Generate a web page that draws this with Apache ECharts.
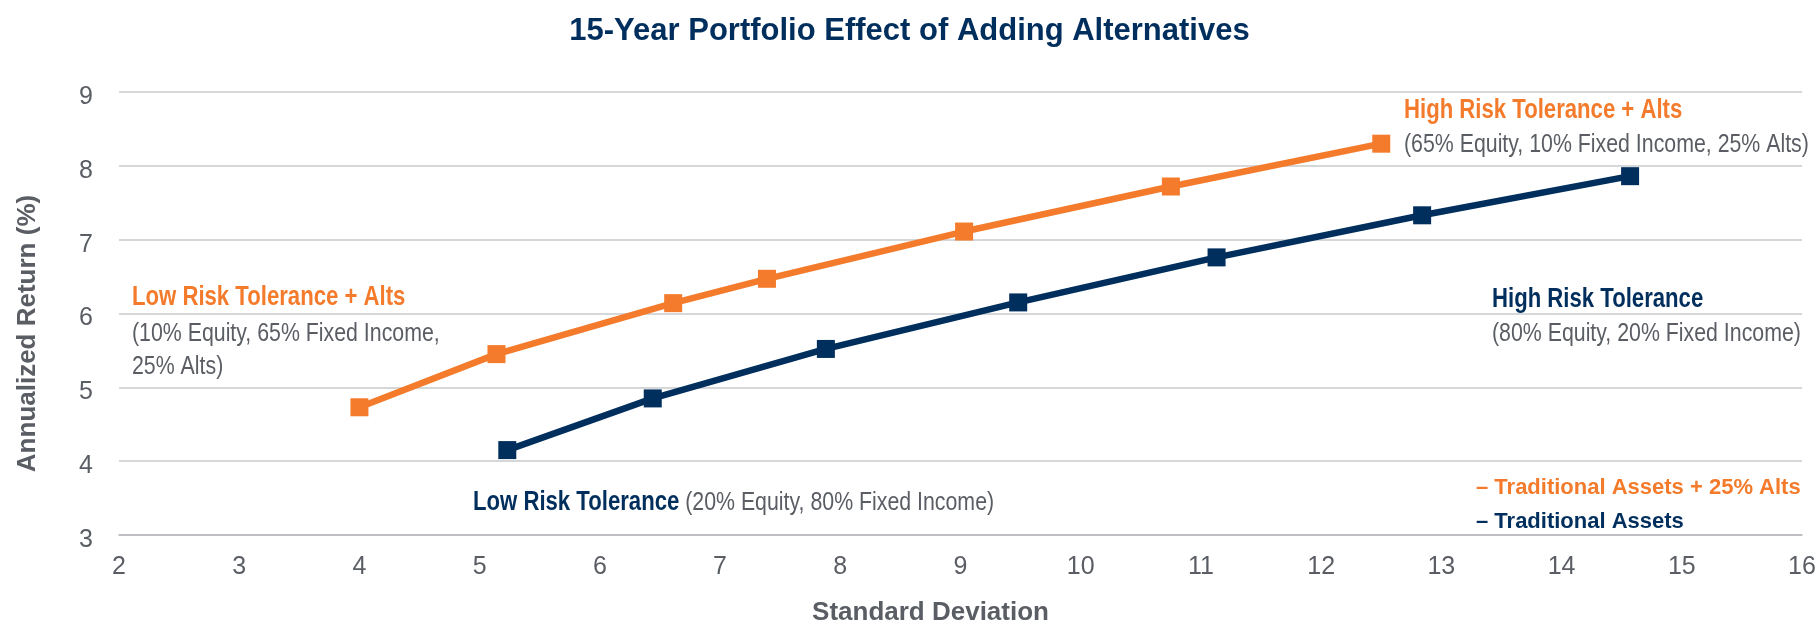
<!DOCTYPE html>
<html>
<head>
<meta charset="utf-8">
<script src="https://cdn.jsdelivr.net/npm/echarts@6/dist/echarts.min.js"></script>
<style>
html,body{margin:0;padding:0;background:#fff;}
#chart{width:1819px;height:631px;}
</style>
</head>
<body>
<div id="chart"></div>
<script>
// ---- data ----
const titleText = '15-Year Portfolio Effect of Adding Alternatives';
const xAxisName = 'Standard Deviation';
const yAxisName = 'Annualized Return (%)';
const seriesNames = ['Traditional Assets + 25% Alts', 'Traditional Assets'];
const altsStdDev = [4.0, 5.14, 6.61, 7.39, 9.03, 10.75, 12.5];
const altsReturn = [4.73, 5.45, 6.14, 6.47, 7.11, 7.72, 8.30];
const tradStdDev = [5.23, 6.44, 7.88, 9.48, 11.13, 12.84, 14.57];
const tradReturn = [4.15, 4.85, 5.52, 6.15, 6.76, 7.33, 7.86];
const xTicks = { min: 2, max: 16, interval: 1 };
const yTicks = { min: 3, max: 9, interval: 1 };

const ORANGE = '#f47b2b';
const NAVY = '#002e5d';
const GRAY = '#5a5e64';
const FONT = "'Liberation Sans', Arial, sans-serif";
const NARROW = 0.82;

function pairs(xs, ys) { return xs.map((x, i) => [x, ys[i]]); }

function txt(x, y, text, color, bold) {
  return {
    type: 'text', x: x, y: y, scaleX: NARROW, silent: true,
    style: {
      text: text, fill: color, fontFamily: FONT,
      fontSize: bold ? 27 : 26, fontWeight: bold ? 'bold' : 'normal',
      align: 'left', verticalAlign: 'middle'
    }
  };
}

const chart = echarts.init(document.getElementById('chart'));
chart.setOption({
  animation: false,
  backgroundColor: '#ffffff',
  title: {
    text: titleText,
    left: 'center',
    top: 11,
    textStyle: { fontFamily: FONT, fontSize: 31, fontWeight: 'bold', color: NAVY }
  },
  legend: {
    orient: 'vertical',
    left: 1466,
    top: 472,
    icon: 'none',
    itemWidth: 0,
    itemHeight: 14,
    itemGap: 12,
    selectedMode: false,
    formatter: '– {name}',
    data: [
      { name: seriesNames[0], textStyle: { color: ORANGE } },
      { name: seriesNames[1], textStyle: { color: NAVY } }
    ],
    textStyle: { fontFamily: FONT, fontSize: 22, fontWeight: 'bold' }
  },
  grid: { left: 119, right: 17, top: 92, bottom: 93, containLabel: false },
  xAxis: {
    type: 'value',
    min: xTicks.min, max: xTicks.max, interval: xTicks.interval,
    name: xAxisName,
    nameLocation: 'middle',
    nameGap: 65,
    nameTextStyle: { fontFamily: FONT, fontSize: 26, fontWeight: 'bold', color: GRAY, padding: [0, 60, 0, 0] },
    axisLine: { show: true, lineStyle: { color: '#b4b7ba', width: 1.5 } },
    axisTick: { show: false },
    splitLine: { show: false },
    axisLabel: { fontFamily: FONT, fontSize: 25, color: GRAY, margin: 20 }
  },
  yAxis: {
    type: 'value',
    min: yTicks.min, max: yTicks.max, interval: yTicks.interval,
    name: yAxisName,
    nameLocation: 'middle',
    nameGap: 78,
    nameRotate: 90,
    nameTextStyle: { fontFamily: FONT, fontSize: 26, fontWeight: 'bold', color: GRAY, padding: [0, 40, 0, 0] },
    axisLine: { show: false },
    axisTick: { show: false },
    splitLine: { show: true, lineStyle: { color: '#c9cacc', width: 1.5 } },
    axisLabel: { fontFamily: FONT, fontSize: 25, color: GRAY, margin: 26, verticalAlign: 'top', lineHeight: 10 }
  },
  series: [
    {
      name: seriesNames[0],
      type: 'line',
      data: pairs(altsStdDev, altsReturn),
      symbol: 'rect', symbolSize: 18,
      lineStyle: { color: ORANGE, width: 6.5 },
      itemStyle: { color: ORANGE },
      z: 3
    },
    {
      name: seriesNames[1],
      type: 'line',
      data: pairs(tradStdDev, tradReturn),
      symbol: 'rect', symbolSize: 18,
      lineStyle: { color: NAVY, width: 6.5 },
      itemStyle: { color: NAVY },
      z: 3
    }
  ],
  graphic: [
    txt(1404, 110.5, 'High Risk Tolerance + Alts', ORANGE, true),
    txt(1404, 145, '(65% Equity, 10% Fixed Income, 25% Alts)', GRAY, false),
    txt(1492, 300, 'High Risk Tolerance', NAVY, true),
    txt(1492, 334, '(80% Equity, 20% Fixed Income)', GRAY, false),
    txt(132, 298, 'Low Risk Tolerance + Alts', ORANGE, true),
    txt(132, 334, '(10% Equity, 65% Fixed Income,', GRAY, false),
    txt(132, 367, '25% Alts)', GRAY, false),
    {
      type: 'text', x: 473, y: 502.5, scaleX: NARROW, silent: true,
      style: {
        text: '{b|Low Risk Tolerance}{r| (20% Equity, 80% Fixed Income)}',
        verticalAlign: 'middle', align: 'left',
        rich: {
          b: { fontFamily: FONT, fontSize: 27, fontWeight: 'bold', fill: NAVY, color: NAVY },
          r: { fontFamily: FONT, fontSize: 26, fill: GRAY, color: GRAY }
        }
      }
    }
  ]
});
</script>
</body>
</html>
